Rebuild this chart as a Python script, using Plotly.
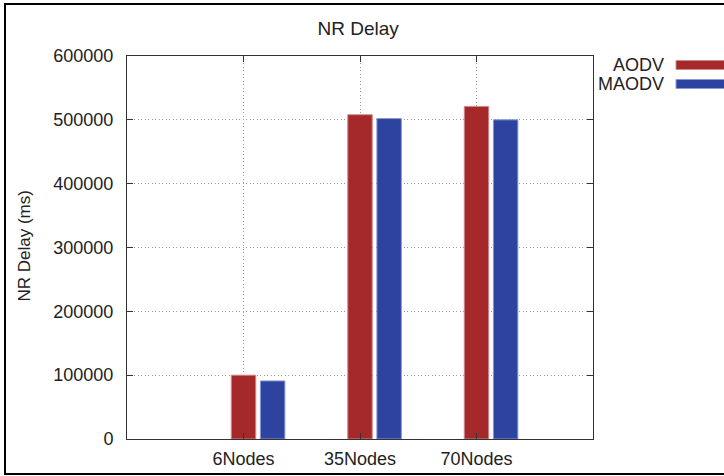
import plotly.graph_objects as go

categories = ["6Nodes", "35Nodes", "70Nodes"]
aodv = [100000, 508000, 521000]
maodv = [91000, 502000, 500000]
y_ticks = [0, 100000, 200000, 300000, 400000, 500000, 600000]

series_names = ["AODV", "MAODV"]
colors = ["#a5282a", "#2e43a0"]
edge_colors = ["#d08a8a", "#8a98d8"]

pos = [i + 1 for i in range(len(categories))]

fig = go.Figure()
fig.add_trace(go.Bar(x=pos, y=aodv, name=series_names[0], width=0.21, offset=-0.105,
                     marker=dict(color=colors[0], line=dict(color=edge_colors[0], width=1))))
fig.add_trace(go.Bar(x=pos, y=maodv, name=series_names[1], width=0.21, offset=0.145,
                     marker=dict(color=colors[1], line=dict(color=edge_colors[1], width=1))))

W, H = 724, 476
L, T = 127, 56
pw, ph = 466, 383
R = W - L - pw
B = H - T - ph


def px_x(p):  # page x -> paper
    return (p - L) / pw


def px_y(p):  # page y -> paper
    return (H - B - p) / ph


shapes = []
annotations = []
# legend (text left, swatch right)
for i, (nm, c, ec) in enumerate(zip(series_names, colors, edge_colors)):
    cy = 65 + i * 19
    shapes.append(dict(type="rect", xref="paper", yref="paper",
                       x0=px_x(676), x1=px_x(740), y0=px_y(cy + 4.5), y1=px_y(cy - 4.5),
                       fillcolor=c, line=dict(color=ec, width=1)))
    annotations.append(dict(text=nm, xref="paper", yref="paper", x=px_x(666), y=px_y(cy),
                            xanchor="right", yanchor="middle", showarrow=False,
                            font=dict(size=18, color="#222")))
# y-axis title
annotations.append(dict(text="NR Delay (ms)", xref="paper", yref="paper",
                        x=px_x(24), y=px_y(246.5), xanchor="center", yanchor="middle",
                        textangle=-90, showarrow=False, font=dict(size=17, color="#222")))
# outer frame
shapes.append(dict(type="rect", xref="paper", yref="paper",
                   x0=px_x(5), x1=px_x(760), y0=px_y(474), y1=px_y(4),
                   line=dict(color="black", width=2), fillcolor="rgba(0,0,0,0)"))

fig.update_layout(
    width=W, height=H,
    margin=dict(l=L, r=R, t=T, b=B, autoexpand=False),
    paper_bgcolor="white", plot_bgcolor="white",
    font=dict(family="Liberation Sans, Arial, sans-serif", size=18, color="#222"),
    title=dict(text="NR Delay", x=px_x(357.5), xanchor="center", y=1 - 28 / H,
               yanchor="middle", font=dict(size=19, color="#222")),
    barmode="overlay",
    showlegend=False,
    shapes=shapes,
    annotations=annotations,
    xaxis=dict(range=[0, 4], tickvals=pos, ticktext=categories, automargin=False,
               showgrid=True, gridcolor="#999", griddash="1px,2.5px", gridwidth=1,
               ticks="inside", ticklen=6, tickcolor="#333",
               showline=True, linecolor="#333", linewidth=1, mirror="ticks",
               zeroline=False, ticklabelstandoff=3, fixedrange=True),
    yaxis=dict(range=[0, 600000], tickvals=y_ticks, ticktext=[str(v) for v in y_ticks],
               automargin=False,
               showgrid=True, gridcolor="#999", griddash="1px,2.5px", gridwidth=1,
               ticks="inside", ticklen=6, tickcolor="#333",
               showline=True, linecolor="#333", linewidth=1, mirror="ticks",
               zeroline=False, ticklabelstandoff=9, fixedrange=True),
)

fig.write_html("out.html", config={"displayModeBar": False},
               post_script="document.body.style.margin='0';document.body.style.overflow='hidden';")
